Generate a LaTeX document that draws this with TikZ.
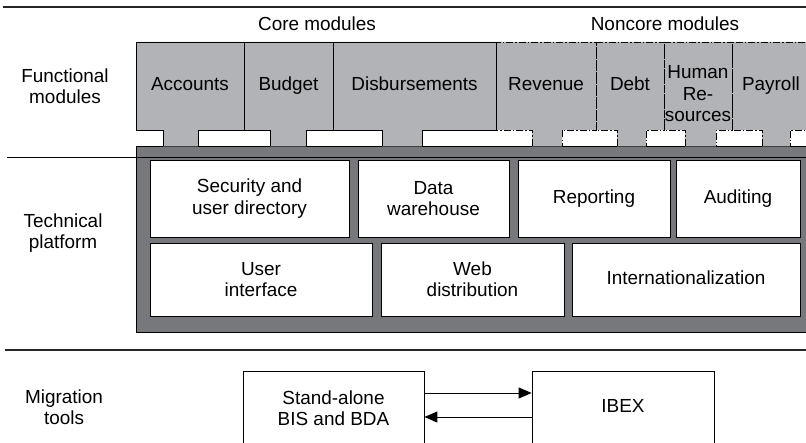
\documentclass[tikz,border=0pt]{standalone}
\usepackage{fontspec}
\setmainfont{Liberation Sans}
\usetikzlibrary{arrows.meta}
\definecolor{modgray}{RGB}{177,179,182}
\definecolor{platgray}{RGB}{119,120,123}
\newcommand{\modfill}[4]{\fill[modgray] (#1,42) rectangle (#2,130) (#3,129) rectangle (#4,146.4);}
\newcommand{\modline}[5]{\draw[#1] (#4,146) -- (#4,130) -- (#2,130) -- (#2,42) -- (#3,42) -- (#3,130) -- (#5,130) -- (#5,146);}
\begin{document}
\begin{tikzpicture}[x=1bp,y=-1bp,
  txt/.style={font=\fontsize{19}{21.5}\selectfont, align=center, inner sep=0pt},
  oneline/.style={text height=13.7bp, text depth=4bp},
  inbox/.style={txt, draw=black, fill=white, line width=0.8bp},
  sep/.style={line width=1.2bp, draw=black!85},
  solidmod/.style={line width=0.8bp, draw=black},
  dashmod/.style={line width=0.8bp, draw=black, dash pattern=on 7bp off 2bp on 1.5bp off 2bp},
  link/.style={line width=0.9bp, -{Triangle[length=13bp,width=11bp]}}]
\useasboundingbox (0,0) rectangle (806,443);
\clip (0,0) rectangle (806,443);
% separators
\draw[sep] (3,7) -- (806,7);
% platform
\draw[fill=platgray, line width=0.8bp] (136,146) rectangle (812,332);
\draw[line width=1bp] (7,158) -- (806,158);
% modules
\modfill{136}{244}{163}{198}
\modfill{244}{333}{270}{306}
\modfill{333}{496}{382}{422}
\modfill{496}{596}{532}{562}
\modfill{596}{664}{617}{646}
\modfill{664}{732}{685}{716}
\modfill{732}{812}{762}{790}
\modline{dashmod}{496}{596}{532}{562}
\modline{dashmod}{596}{664}{617}{646}
\modline{dashmod}{664}{732}{685}{716}
\modline{dashmod}{732}{812}{762}{790}
\modline{solidmod}{136}{244}{163}{198}
\modline{solidmod}{244}{333}{270}{306}
\modline{solidmod}{333}{496}{382}{422}
% module labels
\node[txt, oneline] (core) at (317,26) {Core modules};
\node[txt, oneline] (noncore) at (665,26) {Noncore modules};
\node[txt, oneline] (acc) at (190,86) {Accounts};
\node[txt, oneline] (bud) at (288.5,86) {Budget};
\node[txt, oneline] (dis) at (414.5,86) {Disbursements};
\node[txt, oneline] (rev) at (546,86) {Revenue};
\node[txt, oneline] (debt) at (630,86) {Debt};
\node[txt] (hr) at (698,94) {Human\\Re-\\sources};
\node[txt, oneline] (pay) at (771,86) {Payroll};
% left labels
\node[txt] (fm) at (65,86) {Functional\\modules};
\node[txt] (tp) at (63,233) {Technical\\platform};
\node[txt] (mt) at (64,407) {Migration\\tools};
% platform boxes
\node[inbox, minimum width=199bp, minimum height=77bp] (sec) at (249.5,198.5) {Security and\\user directory};
\node[inbox, minimum width=151bp, minimum height=77bp] (dw) at (433.5,198.5) {Data\\warehouse};
\node[inbox, oneline, minimum width=152bp, minimum height=77bp] (rep) at (594,198.5) {Reporting};
\node[inbox, oneline, minimum width=124bp, minimum height=77bp] (aud) at (738,198.5) {Auditing};
\node[inbox, minimum width=222bp, minimum height=73bp] (ui) at (261,279.5) {User\\interface};
\node[inbox, minimum width=183bp, minimum height=73bp] (web) at (472.5,279.5) {Web\\distribution};
\node[inbox, oneline, minimum width=228bp, minimum height=73bp] (intl) at (686,279.5) {Internationalization};
% migration
\draw[sep] (5,350) -- (806,350);
\node[inbox, minimum width=181bp, minimum height=74bp] (sa) at (333.5,408) {Stand-alone\\BIS and BDA};
\node[inbox, oneline, minimum width=182bp, minimum height=74bp] (ibex) at (623,408) {IBEX};
\draw[link] (sa.east |- 0,393) -- (ibex.west |- 0,393);
\draw[link] (ibex.west |- 0,417) -- (sa.east |- 0,417);
\end{tikzpicture}
\end{document}
